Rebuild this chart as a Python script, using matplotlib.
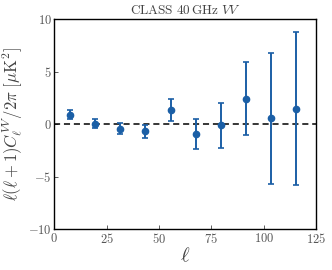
import numpy as np
import matplotlib
matplotlib.use('Agg')
import matplotlib.pyplot as plt
from matplotlib.ticker import FuncFormatter

plt.rcParams['mathtext.fontset'] = 'cm'
plt.rcParams['font.family'] = 'serif'
plt.rcParams['font.serif'] = ['DejaVu Serif']

# bin centres and VV band powers (uK^2)
ell = [7.5, 19.5, 31.5, 43.5, 55.5, 67.5, 79.5, 91.5, 103.5, 115.5]
dl_vv = [0.92, 0.06, -0.41, -0.67, 1.34, -0.92, -0.10, 2.45, 0.57, 1.50]
dl_err = [0.46, 0.40, 0.55, 0.65, 1.05, 1.46, 2.14, 3.44, 6.25, 7.30]

col = '#1b5fa6'

fig = plt.figure(figsize=(3.32, 2.70), dpi=100)
ax = fig.add_axes([0.1636, 0.1507, 0.7884, 0.7778])

ax.axhline(0, color='k', ls='--', lw=1.1, dashes=(4, 2.5))
ax.errorbar(ell, dl_vv, yerr=dl_err, fmt='o', color=col, ms=4.5,
            elinewidth=1.4, capsize=2.2, capthick=1.2, zorder=3)

ax.set_xlim(0, 125)
ax.set_ylim(-10, 10)
ax.set_xticks([0, 25, 50, 75, 100, 125])
ax.set_yticks([-10, -5, 0, 5, 10])
fmt = FuncFormatter(lambda v, p: r'$%g$' % v)
ax.xaxis.set_major_formatter(fmt)
ax.yaxis.set_major_formatter(fmt)
ax.tick_params(direction='in', length=3, width=0.6, labelsize=9, pad=2,
               colors='#444444', labelcolor='#555555')
for s in ax.spines.values():
    s.set_linewidth(1.0)

ax.set_xlabel(r'$\ell$', fontsize=15, labelpad=0, color='#444444')
ax.set_ylabel(r'$\ell(\ell+1)C_\ell^{VV}/2\pi\ [\mu\mathrm{K}^2]$', fontsize=12,
              labelpad=2, color='#444444')
ax.set_title(r'$\mathrm{CLASS\ 40\,GHz}\ VV$', fontsize=9.5, pad=4, color='#444444')

fig.savefig('out.png', dpi=100)
